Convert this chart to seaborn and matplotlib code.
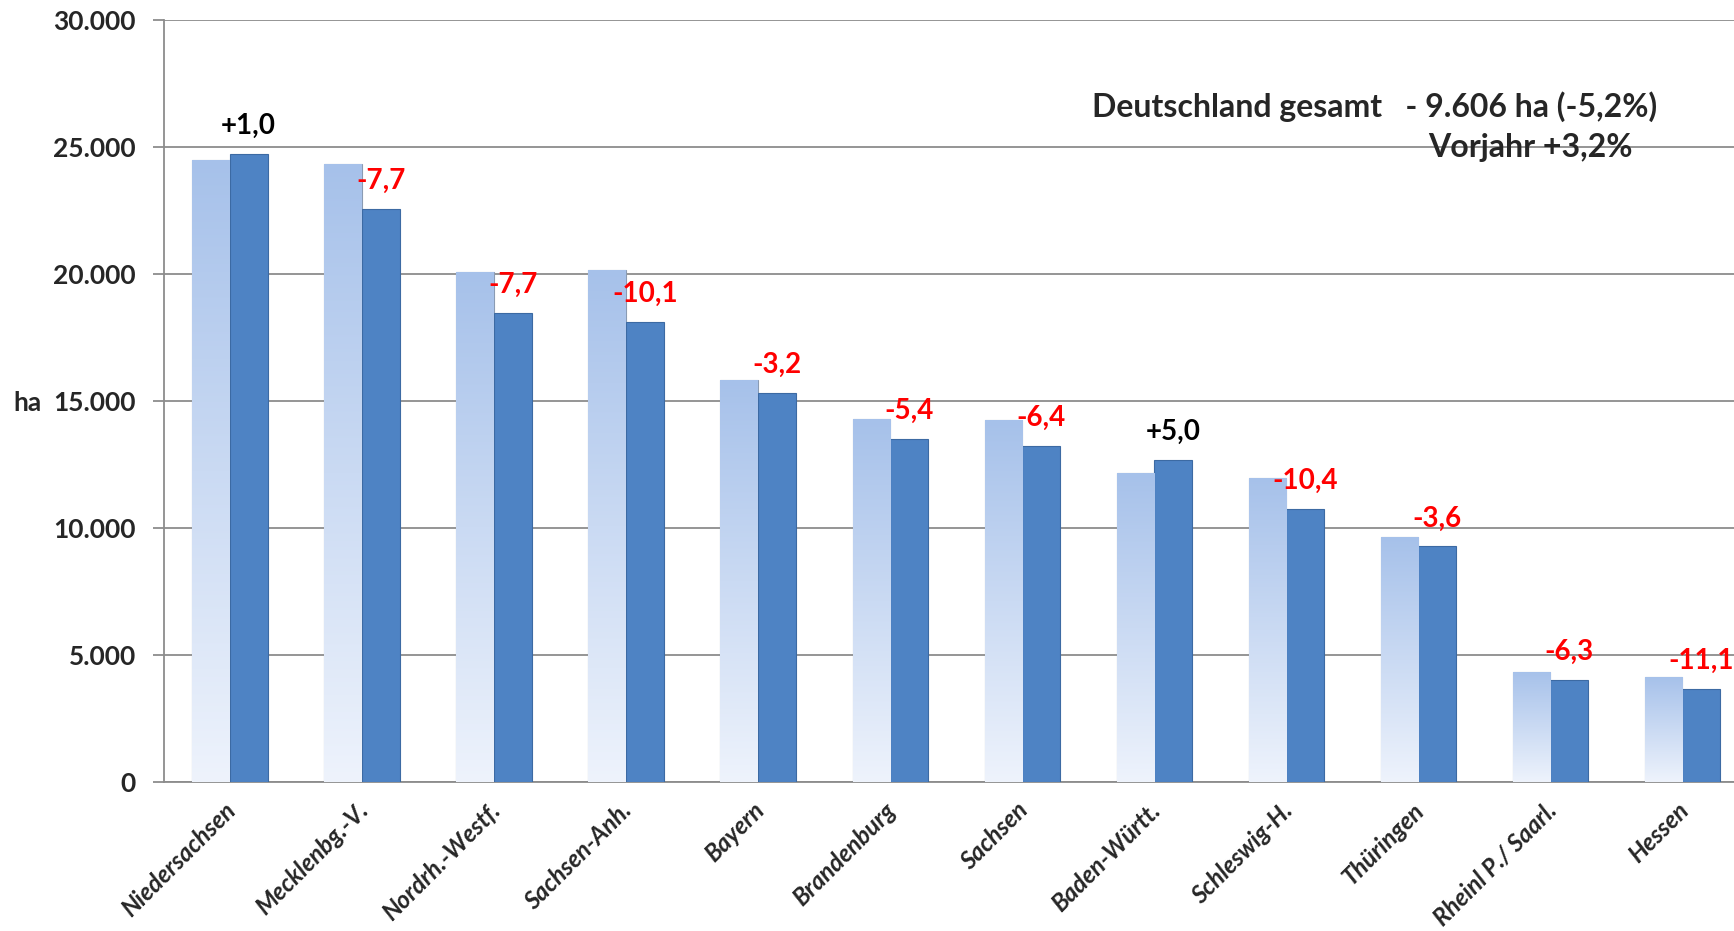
import seaborn as sns
import matplotlib.pyplot as plt
import matplotlib.colors as mcolors
import matplotlib.transforms as mtransforms
import pandas as pd
import numpy as np

# Values (ha per Bundesland, previous year vs. current year)
states = ['Niedersachsen', 'Mecklenbg.-V.', 'Nordrh.-Westf.', 'Sachsen-Anh.', 'Bayern',
          'Brandenburg', 'Sachsen', 'Baden-Württ.', 'Schleswig-H.', 'Thüringen',
          'Rheinl P./ Saarl.', 'Hessen']
prev_year = [24500, 24350, 20080, 20170, 15810, 14290, 14240, 12150, 11980, 9630, 4340, 4140]
curr_year = [24740, 22560, 18470, 18120, 15330, 13500, 13240, 12680, 10760, 9280, 4030, 3670]
change = ['+1,0', '-7,7', '-7,7', '-10,1', '-3,2', '-5,4', '-6,4', '+5,0', '-10,4', '-3,6',
          '-6,3', '-11,1']
y_ticks = [0, 5000, 10000, 15000, 20000, 25000, 30000]

data = pd.DataFrame({
    'Land': states * 2,
    'ha': prev_year + curr_year,
    'Jahr': ['Vorjahr'] * len(states) + ['aktuell'] * len(states),
})

sns.set_style('white')
plt.rcParams['font.family'] = ['Lato', 'DejaVu Sans']

fig = plt.figure(figsize=(17.34, 9.31), dpi=100)
ax = fig.add_axes([0.0945, 0.160, 0.9055, 0.8185])

sns.barplot(data=data, x='Land', y='ha', hue='Jahr', order=states,
            hue_order=['Vorjahr', 'aktuell'], palette=['#c6d7f1', '#4e83c4'],
            saturation=1, width=0.57, gap=0, edgecolor='#8a9bb3', linewidth=0.8,
            legend=False, ax=ax, zorder=3)

# gradient fill for the light (previous year) bars
grad = mcolors.LinearSegmentedColormap.from_list('g', ['#eef3fc', '#a6c1ea'])
for bar in ax.containers[0]:
    x0, y0 = bar.get_x(), bar.get_y()
    w, h = bar.get_width(), bar.get_height()
    img = ax.imshow(np.linspace(0, 1, 256).reshape(-1, 1), cmap=grad, origin='lower',
                    extent=[x0, x0 + w, y0, y0 + h], aspect='auto', zorder=3.5)
    img.set_clip_path(bar)

for bar in ax.containers[1]:
    bar.set_edgecolor('#3c6aa3')

ax.set_xlim(-0.5, 11.39)
ax.set_ylim(0, 30000)
ax.set_yticks(y_ticks)
ax.set_yticklabels([f'{v:,.0f}'.replace(',', '.') for v in y_ticks],
                   fontsize=19, fontweight='bold')
ax.yaxis.grid(True, color='#8c8c8c', linewidth=1.3, zorder=0)
ax.set_axisbelow(True)
ax.tick_params(axis='y', length=8, color='#8c8c8c', width=1.3, pad=12, left=True)
ax.tick_params(axis='x', length=0, pad=4)

shift = mtransforms.ScaledTranslation(-6 / 100, -11 / 100, fig.dpi_scale_trans)
for lab in ax.get_xticklabels():
    lab.set_rotation(45)
    lab.set_ha('right')
    lab.set_rotation_mode('anchor')
    lab.set_fontsize(17.5)
    lab.set_fontweight('bold')
    lab.set_fontstyle('italic')
    lab.set_transform(lab.get_transform() + shift)

for side in ['top', 'right']:
    ax.spines[side].set_visible(False)
for side in ['left', 'bottom']:
    ax.spines[side].set_color('#8c8c8c')
    ax.spines[side].set_linewidth(1.3)

ax.set_xlabel('')
ax.set_ylabel('ha', rotation=0, fontsize=19, fontweight='bold', va='center', ha='center')
ax.yaxis.set_label_coords(0.016, 0.567, transform=fig.transFigure)

# percentage change labels above the current-year bars
for bar, txt in zip(ax.containers[1], change):
    ax.annotate(txt, (bar.get_x() + bar.get_width() / 2, bar.get_height()),
                xytext=(0, 20), textcoords='offset points', ha='center', va='center',
                fontsize=20, fontweight='bold',
                color='black' if txt.startswith('+') else '#ff0000', zorder=5)

fig.text(0.630, 0.885, 'Deutschland gesamt   - 9.606 ha (-5,2%)', fontsize=23,
         fontweight='bold', ha='left', va='center')
fig.text(0.8235, 0.842, 'Vorjahr +3,2%', fontsize=23, fontweight='bold',
         ha='left', va='center')

fig.savefig('out.png', dpi=100)
